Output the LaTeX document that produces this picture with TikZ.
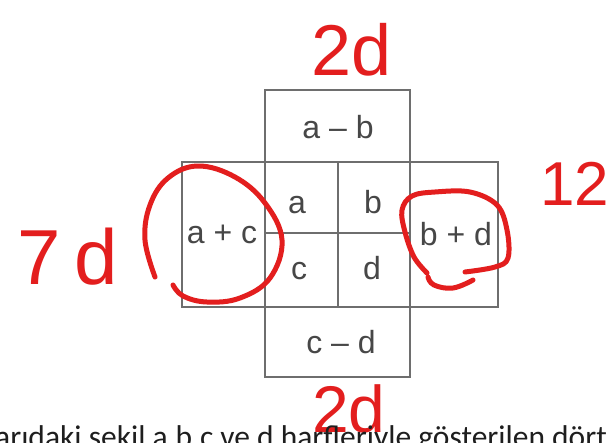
\documentclass[tikz,border=0pt]{standalone}
\usepackage{fontspec}
\setmainfont{Liberation Sans}
\newfontfamily\calib{Carlito}
\definecolor{gridgray}{HTML}{6E6E6E}
\definecolor{labelgray}{HTML}{474747}
\definecolor{handred}{HTML}{E31E1E}
\definecolor{bodytext}{HTML}{1E1E1E}
\tikzset{
  gridline/.style={draw=gridgray, line width=1.4pt},
  lbl/.style={font=\fontsize{32}{32}\selectfont, text=labelgray, anchor=base, inner sep=0pt},
  hand/.style={draw=handred, line width=5pt, line cap=round, line join=round},
  handtxt/.style={text=handred, font=\fontsize{72}{72}\selectfont, anchor=base, inner sep=0pt},
}
\begin{document}
\begin{tikzpicture}[x=1pt, y=-1pt]
\useasboundingbox (0,0) rectangle (610,442);
\clip (0,0) rectangle (610,442);
\fill[white] (0,0) rectangle (610,442);
% grid
\draw[gridline] (265,90) rectangle (410,162);
\draw[gridline] (182,162) rectangle (498,307);
\draw[gridline] (265,307) rectangle (410,377);
\draw[gridline] (265,162) -- (265,307);
\draw[gridline] (410,162) -- (410,307);
\draw[gridline] (338,162) -- (338,307);
\draw[gridline] (265,233) -- (410,233);
% labels
\node[lbl] (amb) at (338,138) {a – b};
\node[lbl] (a) at (297,213) {a};
\node[lbl] (b) at (373,213) {b};
\node[lbl] (c) at (299,279) {c};
\node[lbl] (d) at (372,279) {d};
\node[lbl] (apc) at (222,243) {a + c};
\node[lbl] (bpd) at (456,245) {b + d};
\node[lbl] (cmd) at (341,353) {c – d};
% handwriting
\node[handtxt] (top2d) at (352,75) {2d};
\node[handtxt, font=\fontsize{78}{78}\selectfont] (left7d) at (68,284) {7\hspace{14pt}d};
\node[handtxt, font=\fontsize{62}{62}\selectfont] (right12) at (575,205) {12};
\node[handtxt, font=\fontsize{66}{66}\selectfont] (bot2d) at (349,432) {2d};
\draw[hand] plot[smooth, tension=0.65] coordinates {(155,277) (145,240) (150,205) (168,178) (198,166) (235,177) (265,203) (282,240) (270,278) (240,298) (207,302) (183,296) (173,285)};
\draw[hand] plot[smooth, tension=0.6] coordinates {(427,273) (414,257) (405,232) (402,210) (412,196) (435,192) (470,192) (497,205) (507,230) (508,258) (495,267) (465,272)};
\draw[hand] plot[smooth, tension=0.7] coordinates {(428,277) (434,285) (453,288) (473,280)};
% bottom text
\node[anchor=base west, inner sep=0pt, text=bodytext, font=\calib\fontsize{31.5}{31.5}\selectfont] (body) at (-5,447) {arıdaki şekil a,b,c ve d harfleriyle gösterilen dört};
\end{tikzpicture}
\end{document}
